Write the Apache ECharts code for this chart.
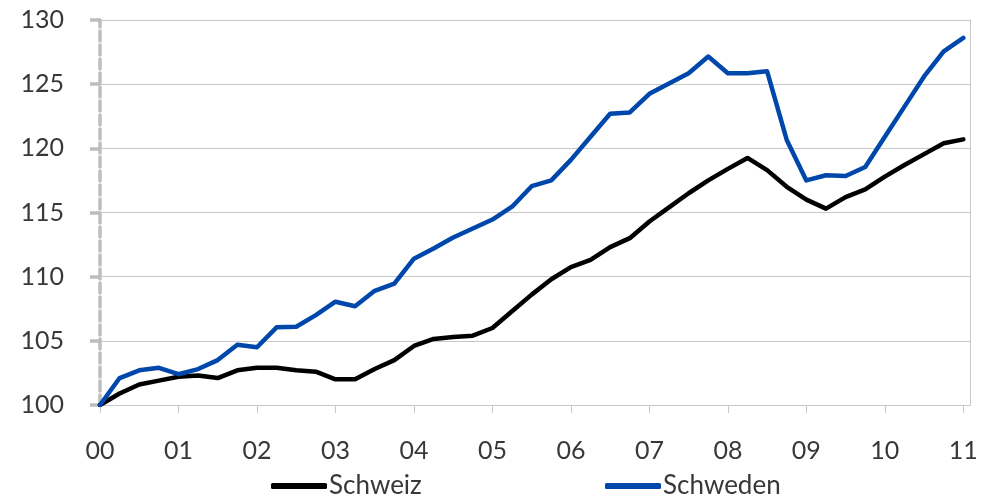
<!DOCTYPE html>
<html>
<head>
    <meta charset="utf-8">
    <script src="https://cdn.jsdelivr.net/npm/echarts@6/dist/echarts.min.js"></script>
    <style>
        * { margin: 0; padding: 0; }
        #main { width: 990px; height: 502px; }
    </style>
</head>
<body>
    <div id="main"></div>
    <script type="text/javascript">
        // Jahres-Beschriftung (Quartalsdaten, 2000Q1 = 100)
        var years = ['00', '01', '02', '03', '04', '05', '06', '07', '08', '09', '10', '11'];

        var schweiz = [100, 100.9, 101.6, 101.9, 102.2, 102.3, 102.1, 102.7, 102.9, 102.9, 102.7, 102.6,
            102.0, 102.0, 102.8, 103.5, 104.6, 105.15, 105.3, 105.4, 106.0, 107.3, 108.6, 109.8,
            110.75, 111.3, 112.3, 113.0, 114.3, 115.4, 116.5, 117.5, 118.4, 119.25, 118.3, 117.0,
            116.0, 115.3, 116.2, 116.8, 117.8, 118.7, 119.55, 120.4, 120.7];

        var schweden = [100, 102.1, 102.7, 102.9, 102.4, 102.8, 103.5, 104.7, 104.5, 106.05, 106.1, 107.0,
            108.05, 107.7, 108.9, 109.45, 111.4, 112.2, 113.05, 113.75, 114.45, 115.45, 117.05, 117.5,
            119.1, 120.9, 122.7, 122.8, 124.25, 125.05, 125.85, 127.15, 125.85, 125.85, 126.0, 120.65,
            117.5, 117.9, 117.85, 118.55, 120.9, 123.25, 125.6, 127.55, 128.6];

        var myChart = echarts.init(document.getElementById('main'));

        var toPairs = function(arr) {
            var res = [];
            for (var i = 0; i < arr.length; i++) {
                res.push([i, arr[i]]);
            }
            return res;
        };

        var yearTicks = [];
        for (var k = 0; k < years.length; k++) {
            yearTicks.push(k * 4);
        }

        var textColor = '#383838';
        var gridColor = '#c8c8c8';
        var axisGray = '#bdbdbd';
        var fontFam = 'Lato, "Open Sans", sans-serif';

        var option = {
            animation: false,
            backgroundColor: '#fff',
            textStyle: { fontFamily: fontFam },
            grid: {
                left: 100,
                right: 20,
                top: 20,
                bottom: 97,
                containLabel: false
            },
            legend: [{
                data: ['Schweiz'],
                left: 266,
                top: 468,
                icon: 'roundRect',
                itemWidth: 56,
                itemHeight: 6,
                itemGap: 0,
                textStyle: { color: textColor, fontSize: 26, fontFamily: fontFam, padding: [0, 0, 0, -3] }
            }, {
                data: ['Schweden'],
                left: 600,
                top: 468,
                icon: 'roundRect',
                itemWidth: 56,
                itemHeight: 6,
                itemGap: 0,
                textStyle: { color: textColor, fontSize: 26, fontFamily: fontFam, padding: [0, 0, 0, -3] }
            }],
            xAxis: {
                type: 'value',
                min: 0,
                max: 44.34,
                splitLine: { show: false },
                axisLine: { show: true, lineStyle: { color: gridColor, width: 1 } },
                axisTick: {
                    show: true,
                    length: 8,
                    customValues: yearTicks,
                    lineStyle: { color: gridColor, width: 1 }
                },
                axisLabel: {
                    customValues: yearTicks,
                    margin: 33,
                    color: textColor,
                    fontSize: 25,
                    fontFamily: fontFam,
                    formatter: function(v) {
                        return years[Math.round(v / 4)];
                    }
                }
            },
            yAxis: [{
                type: 'value',
                min: 100,
                max: 130,
                interval: 5,
                axisLine: { show: true, lineStyle: { color: axisGray, width: 3.5, type: [10, 4] } },
                axisTick: { show: true, length: 10, lineStyle: { color: axisGray, width: 3.5 } },
                axisLabel: { margin: 36, color: textColor, fontSize: 25, fontFamily: fontFam },
                splitLine: { show: true, lineStyle: { color: gridColor, width: 1 } }
            }, {
                // rechter Rahmen
                type: 'value',
                position: 'right',
                min: 100,
                max: 130,
                interval: 5,
                axisLine: { show: true, lineStyle: { color: gridColor, width: 1 } },
                axisTick: { show: false },
                axisLabel: { show: false },
                splitLine: { show: false }
            }],
            series: [{
                name: 'Schweiz',
                type: 'line',
                data: toPairs(schweiz),
                showSymbol: false,
                symbol: 'none',
                color: '#000000',
                lineStyle: { color: '#000000', width: 4.5, cap: 'round', join: 'round' }
            }, {
                name: 'Schweden',
                type: 'line',
                data: toPairs(schweden),
                showSymbol: false,
                symbol: 'none',
                color: '#0047ab',
                lineStyle: { color: '#0047ab', width: 4.5, cap: 'round', join: 'round' }
            }]
        };

        myChart.setOption(option);
    </script>
</body>
</html>
